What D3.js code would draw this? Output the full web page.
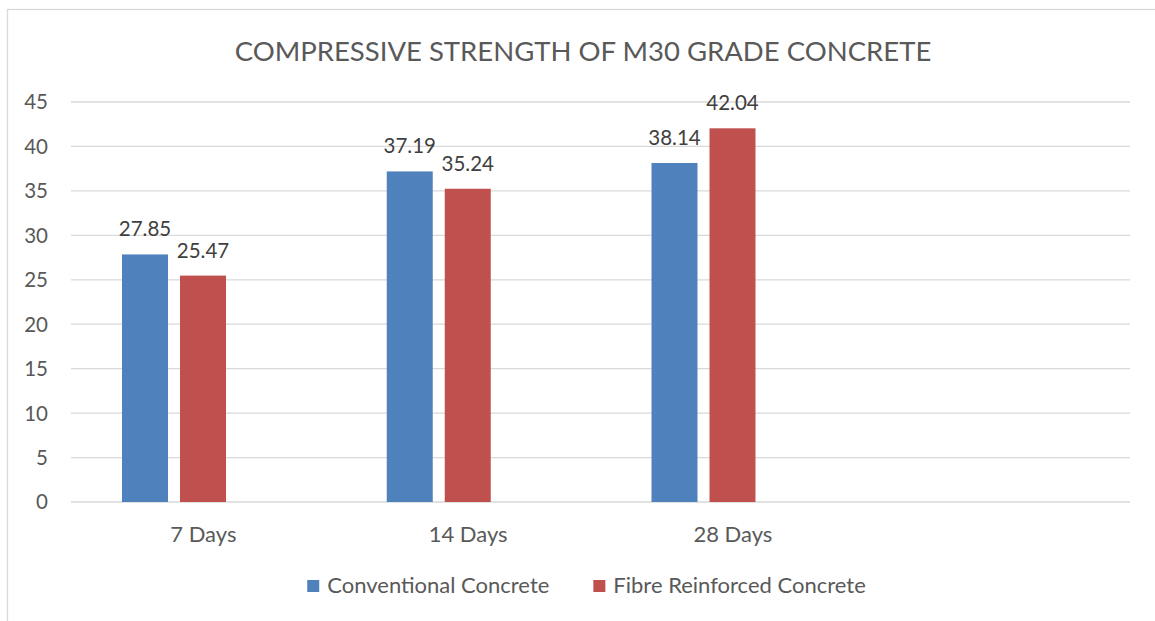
<!DOCTYPE html>
<html>
<head>
<meta charset="utf-8">
<script src="https://cdn.jsdelivr.net/npm/d3@7"></script>
<style>
  html, body { margin: 0; padding: 0; background: #fff; }
  svg { display: block; font-family: Lato, "Open Sans", sans-serif; }
</style>
</head>
<body>
<svg id="chart" width="1155" height="621"></svg>
<script>
const categories = ["7 Days", "14 Days", "28 Days", ""];
const seriesNames = ["Conventional Concrete", "Fibre Reinforced Concrete", ""];
const conventional = [27.85, 37.19, 38.14];
const fibre = [25.47, 35.24, 42.04];
const yTicks = [0, 5, 10, 15, 20, 25, 30, 35, 40, 45];
const title = "COMPRESSIVE STRENGTH OF M30 GRADE CONCRETE";
const colors = ["#4F81BD", "#C0504D", "none"];

const svg = d3.select("#chart");
const W = 1155, H = 621;

// frame
svg.append("rect").attr("x", 7.5).attr("y", 9.5).attr("width", W + 20).attr("height", H + 20)
  .attr("fill", "#fff").attr("stroke", "#D9D9D9").attr("stroke-width", 1.3);

const x0 = d3.scaleBand().domain(categories).range([71, 1130]);
const x1 = d3.scaleBand().domain(seriesNames).range([51, 213]).paddingInner(0.207);
const y = d3.scaleLinear().domain([0, 45]).range([502, 102]);

// grid
svg.append("g").selectAll("line").data(yTicks).join("line")
  .attr("x1", 71).attr("x2", 1130)
  .attr("y1", d => y(d)).attr("y2", d => y(d))
  .attr("stroke", "#D9D9D9").attr("stroke-width", 1.3);

// y axis labels
const yAxis = d3.axisLeft(y).tickValues(yTicks).tickSize(0).tickPadding(0);
const ya = svg.append("g").attr("transform", "translate(48,0)").call(yAxis);
ya.select(".domain").remove();
ya.selectAll("text").attr("fill", "#595959").style("font-size", "20.5px")
  .style("font-family", "Lato, sans-serif").attr("dy", "0.34em");

// x axis labels
const xAxis = d3.axisBottom(x0).tickSize(0).tickPadding(0);
const xa = svg.append("g").attr("transform", "translate(0,526)").call(xAxis);
xa.select(".domain").remove();
xa.selectAll("text").attr("fill", "#595959").style("font-size", "22px")
  .style("font-family", "Lato, sans-serif").attr("dy", "0.71em");

// bars
const seriesData = [conventional, fibre, []];
const rows = categories.map((c, i) => ({
  cat: c,
  vals: seriesNames.map((s, j) => ({ s, j, v: seriesData[j][i] }))
}));
const groups = svg.append("g").selectAll("g").data(rows).join("g")
  .attr("transform", d => `translate(${x0(d.cat)},0)`);
groups.selectAll("rect").data(d => d.vals.filter(e => e.v !== undefined)).join("rect")
  .attr("x", d => x1(d.s)).attr("width", x1.bandwidth())
  .attr("y", d => y(d.v)).attr("height", d => y(0) - y(d.v))
  .attr("fill", d => colors[d.j]);
groups.selectAll("text").data(d => d.vals.filter(e => e.v !== undefined)).join("text")
  .attr("x", d => x1(d.s) + x1.bandwidth() / 2)
  .attr("y", d => y(d.v) - 18)
  .attr("text-anchor", "middle").attr("fill", "#404040")
  .style("font-size", "20.5px")
  .text(d => d.v.toFixed(2));

// title
svg.append("text").attr("x", 583).attr("y", 61).attr("text-anchor", "middle")
  .attr("fill", "#595959").style("font-size", "27.5px").text(title);

// legend
const legend = svg.append("g");
const items = seriesNames.slice(0, 2);
let cx = 0;
items.forEach((name, i) => {
  const g = legend.append("g");
  g.append("rect").attr("x", 0).attr("y", -13).attr("width", 12).attr("height", 12).attr("fill", colors[i]);
  const t = g.append("text").attr("x", 20).attr("y", 0).attr("fill", "#595959")
    .style("font-size", "22px").text(name);
  const w = 20 + t.node().getComputedTextLength();
  g.attr("transform", `translate(${cx},593)`);
  cx += w + 44;
});
const total = cx - 44;
legend.attr("transform", `translate(${586.5 - total / 2},0)`);
</script>
</body>
</html>
